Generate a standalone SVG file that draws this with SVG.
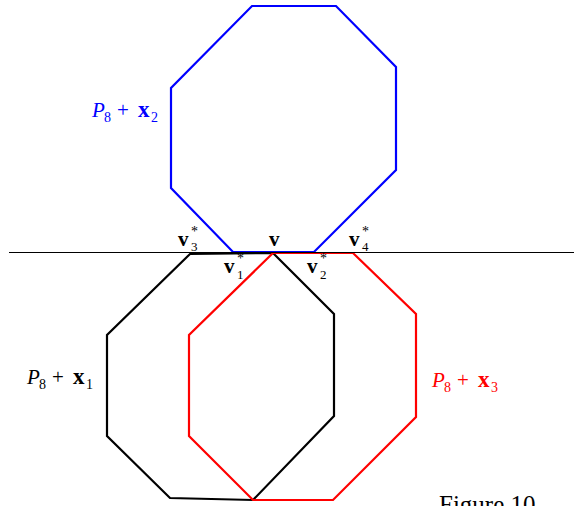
<svg xmlns="http://www.w3.org/2000/svg" width="574" height="506" viewBox="0 0 574 506">
<style>
.oct{fill:none;stroke-width:2.2;stroke-linejoin:miter}
.t{font-family:"Liberation Serif","DejaVu Serif",serif}
.P{font-size:21px;font-style:italic}
.pl{font-size:21px}
.x{font-size:23px;font-weight:bold}
.s{font-size:14px}
.v{font-size:21px;font-weight:bold}
.ss{font-size:13px}
.st{font-size:14px}
</style>
<rect width="574" height="506" fill="#fff"/>
<g id="P8x1">
<polygon class="oct" stroke="#000" points="190,254 273,253 334,314 334,416 253,500 170,498 107,436 107,335"/>
</g>
<g id="P8x3">
<polygon class="oct" stroke="#f00" points="273,253 353,253 416,314 416,417 333,500 253,500 189,436 189,335"/>
</g>
<g id="P8x2">
<polygon class="oct" stroke="#00f" points="252,6 336,6 396,67 396,170 314,252 233,252 171,188 171,88"/>
</g>
<g id="connectors">
<line x1="9" y1="252.5" x2="574" y2="252.5" stroke="#000" stroke-width="1.2"/>
</g>
<g id="label-x2" class="t" fill="#00f">
<text class="P" x="92" y="117">P</text>
<text class="s" x="104" y="122">8</text>
<text class="pl" x="117" y="117">+</text>
<text class="x" x="138" y="117">x</text>
<text class="s" x="151" y="122">2</text>
</g>
<g id="label-x1" class="t" fill="#000">
<text class="P" x="27" y="384">P</text>
<text class="s" x="39" y="389">8</text>
<text class="pl" x="52" y="384">+</text>
<text class="x" x="73" y="384">x</text>
<text class="s" x="86" y="389">1</text>
</g>
<g id="label-x3" class="t" fill="#f00">
<text class="P" x="432" y="387">P</text>
<text class="s" x="444" y="392">8</text>
<text class="pl" x="457" y="387">+</text>
<text class="x" x="478" y="387">x</text>
<text class="s" x="491" y="392">3</text>
</g>
<g id="vertex-labels" class="t" fill="#000">
<text class="v" x="269" y="246">v</text>
<text class="v" x="178" y="246">v</text><text class="st" x="191" y="236">*</text><text class="ss" x="191" y="251">3</text>
<text class="v" x="224" y="273">v</text><text class="st" x="237" y="263">*</text><text class="ss" x="237" y="279">1</text>
<text class="v" x="307" y="273">v</text><text class="st" x="320" y="263">*</text><text class="ss" x="320" y="279">2</text>
<text class="v" x="349" y="246">v</text><text class="st" x="362" y="236">*</text><text class="ss" x="362" y="251">4</text>
</g>
<text class="t" x="439" y="513" font-size="25" fill="#000">Figure 10</text>
</svg>
